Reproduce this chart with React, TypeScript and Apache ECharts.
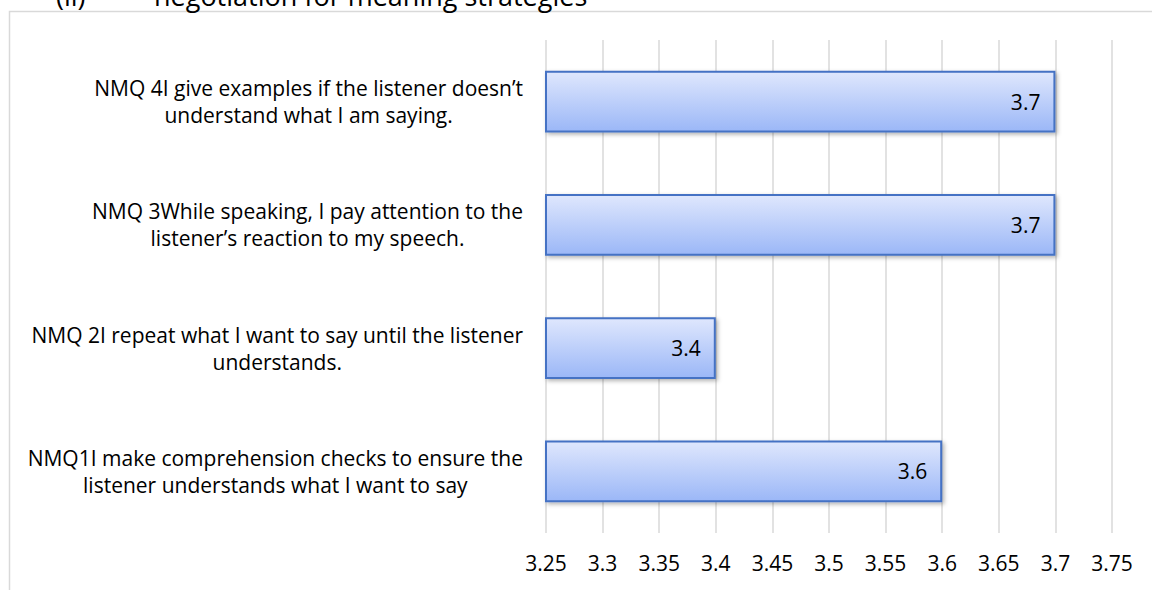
import React, { useEffect, useRef } from "react";
import * as echarts from "echarts";

const categories = [
  "NMQ1I make comprehension checks to ensure the\nlistener understands what I want to say",
  "NMQ 2I repeat what I want to say until the listener\nunderstands.",
  "NMQ 3While speaking, I pay attention to the\nlistener\u2019s reaction to my speech.",
  "NMQ 4I give examples if the listener doesn\u2019t\nunderstand what I am saying.",
];
const values = [3.6, 3.4, 3.7, 3.7];
const xMin = 3.25;
const xMax = 3.75;
const xStep = 0.05;
const titleParts = ["(ii)", "negotiation for meaning strategies"];

const FONT = "'Open Sans', 'Noto Sans', sans-serif";

export default function App() {
  const ref = useRef<HTMLDivElement>(null);
  useEffect(() => {
    if (!ref.current) return;
    const chart = echarts.init(ref.current, undefined, { renderer: "svg" });
    chart.setOption({
      animation: false,
      backgroundColor: "#ffffff",
      grid: { left: 546, right: 40, top: 40, bottom: 57, containLabel: false },
      graphic: [
        {
          type: "rect",
          shape: { x: 9.5, y: 11.5, width: 1300, height: 800 },
          style: { fill: "none", stroke: "#d9d9d9", lineWidth: 1.5 },
          silent: true,
        },
        {
          type: "text",
          x: 56,
          y: 9,
          style: {
            text: titleParts[0],
            font: `27px ${FONT}`,
            fill: "#000",
            textVerticalAlign: "bottom",
          },
        },
        {
          type: "text",
          x: 154,
          y: 9,
          style: {
            text: titleParts[1],
            font: `27px ${FONT}`,
            fill: "#000",
            textVerticalAlign: "bottom",
          },
        },
      ],
      xAxis: {
        type: "value",
        min: xMin,
        max: xMax,
        interval: xStep,
        axisLine: { show: false },
        axisTick: { show: false },
        splitLine: { show: true, lineStyle: { color: "#d9d9d9", width: 1.5 } },
        axisLabel: {
          color: "#000",
          fontFamily: FONT,
          fontSize: 21,
          margin: 19,
          formatter: (v: number) => String(+v.toFixed(2)),
        },
      },
      yAxis: {
        type: "category",
        data: categories,
        axisLine: { show: false },
        axisTick: { show: false },
        axisLabel: {
          align: "right",
          margin: 23,
          formatter: (v: string) =>
            v
              .split("\n")
              .map((l) => `{a|${l}}`)
              .join("\n"),
          rich: {
            a: {
              align: "center",
              color: "#000",
              fontFamily: FONT,
              fontSize: 21,
              lineHeight: 27,
            },
          },
        },
      },
      series: [
        {
          type: "bar",
          data: values,
          barWidth: "50%",
          itemStyle: {
            color: new echarts.graphic.LinearGradient(0, 0, 0, 1, [
              { offset: 0, color: "#dfe7fd" },
              { offset: 1, color: "#9bb7f7" },
            ]),
            borderColor: "#4472c4",
            borderWidth: 2,
            shadowColor: "rgba(0,0,0,0.3)",
            shadowBlur: 4,
            shadowOffsetX: 2,
            shadowOffsetY: 2,
          },
          label: {
            show: true,
            position: "insideRight",
            distance: 15,
            color: "#000",
            fontFamily: FONT,
            fontSize: 21,
          },
        },
      ],
    });
    return () => chart.dispose();
  }, []);
  return (
    <div
      ref={ref}
      style={{ position: "fixed", left: 0, top: 0, width: 1152, height: 590 }}
    />
  );
}
